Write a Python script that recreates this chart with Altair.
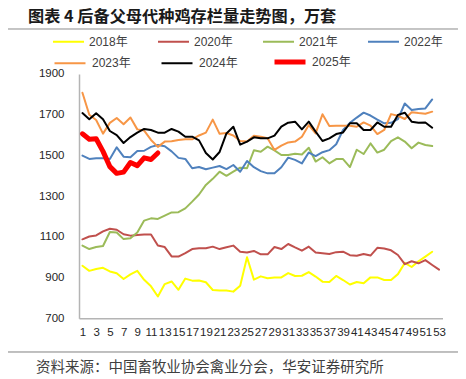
import altair as alt
import pandas as pd

series_names = ["2018年", "2020年", "2021年", "2022年", "2023年", "2024年", "2025年"]
series_colors = ["#FFFF00", "#C0504D", "#9BBB59", "#4F81BD", "#F79646", "#000000", "#FF0000"]
series_widths = [2, 2, 2, 2, 2, 2, 5]

v2018 = [958, 933, 942, 948, 930, 921, 893, 916, 933, 889, 857, 807, 868, 881, 840, 895, 885, 886,
         877, 839, 837, 836, 831, 860, 1000, 890, 906, 897, 900, 901, 922, 908, 909, 927, 905, 880,
         878, 908, 888, 866, 878, 872, 901, 901, 888, 888, 917, 972, 952, 980, 1003, 1027]
v2020 = [1088, 1102, 1107, 1127, 1140, 1135, 1113, 1106, 1109, 1112, 1112, 1058, 1050, 1004, 1003,
         1020, 1040, 1044, 1044, 1052, 1040, 1049, 1057, 1027, 1023, 1031, 1014, 1014, 1050, 1040,
         1065, 1048, 1032, 1052, 1023, 1020, 1016, 1025, 1027, 1010, 1007, 1016, 1008, 1046, 1043,
         1034, 1011, 966, 980, 970, 986, 962, 939]
v2021 = [1057, 1040, 1050, 1055, 1124, 1121, 1089, 1093, 1121, 1180, 1191, 1188, 1204, 1220, 1221,
         1240, 1273, 1308, 1355, 1385, 1420, 1400, 1420, 1440, 1437, 1525, 1518, 1543, 1525, 1502,
         1502, 1508, 1505, 1538, 1470, 1491, 1461, 1482, 1482, 1443, 1528, 1507, 1559, 1514, 1528,
         1570, 1589, 1568, 1535, 1563, 1551, 1546]
v2022 = [1499, 1483, 1486, 1486, 1483, 1540, 1494, 1491, 1522, 1523, 1542, 1551, 1545, 1520, 1488,
         1483, 1437, 1443, 1432, 1440, 1448, 1433, 1453, 1420, 1473, 1442, 1423, 1412, 1412, 1442,
         1489, 1478, 1461, 1514, 1497, 1516, 1526, 1555, 1625, 1660, 1686, 1710, 1696, 1676, 1658,
         1660, 1678, 1755, 1723, 1728, 1731, 1775]
v2023 = [1808, 1700, 1674, 1607, 1660, 1684, 1653, 1686, 1628, 1622, 1576, 1542, 1568, 1570, 1576,
         1579, 1579, 1598, 1612, 1676, 1606, 1610, 1598, 1571, 1568, 1597, 1592, 1584, 1527, 1548,
         1564, 1568, 1592, 1649, 1608, 1702, 1644, 1646, 1646, 1646, 1641, 1662, 1646, 1605, 1625,
         1703, 1695, 1679, 1712, 1708, 1705, 1715]
v2024 = [1708, 1678, 1707, 1678, 1620, 1600, 1561, 1590, 1612, 1630, 1625, 1612, 1612, 1630, 1617,
         1592, 1592, 1574, 1512, 1480, 1517, 1608, 1641, 1553, 1568, 1589, 1584, 1584, 1597, 1641,
         1661, 1666, 1628, 1666, 1617, 1571, 1584, 1605, 1613, 1658, 1658, 1625, 1625, 1662, 1641,
         1641, 1699, 1710, 1666, 1661, 1662, 1636]
v2025 = [1606, 1580, 1582, 1520, 1445, 1412, 1418, 1465, 1450, 1488, 1480, 1512]

x_tick_values = list(range(1, 54, 2))
y_tick_values = list(range(700, 1901, 200))

title_text = "图表 4  后备父母代种鸡存栏量走势图，万套"
source_text = "资料来源：中国畜牧业协会禽业分会，华安证券研究所"

rows = []
for name, vals in zip(series_names, [v2018, v2020, v2021, v2022, v2023, v2024, v2025]):
    for i, v in enumerate(vals):
        rows.append({"week": i + 1, "series": name, "value": v})
df = pd.DataFrame(rows)

names_a, names_b = series_names[:4], series_names[4:]
colors_a, colors_b = series_colors[:4], series_colors[4:]
widths_b = series_widths[4:]
df_a = df[df["series"].isin(names_a)]
df_b = df[df["series"].isin(names_b)]

FONT = "Liberation Sans, Noto Sans CJK SC"
CJK = "Noto Sans CJK SC"

x_enc = alt.X("week:Q",
              scale=alt.Scale(domain=[0.5, 53.5], nice=False, zero=False),
              axis=alt.Axis(values=x_tick_values, title=None, grid=False, ticks=False,
                            labelOverlap=False, labelFlush=False, labelPadding=8, format="d",
                            labelFontSize=11.5, labelFont=FONT, labelColor="#262626",
                            domainColor="#B4B4B4", domainWidth=1.5))
y_enc = alt.Y("value:Q",
              scale=alt.Scale(domain=[700, 1900], nice=False, zero=False),
              axis=alt.Axis(values=y_tick_values, title=None, grid=False, ticks=False,
                            labelPadding=15, labelFontSize=11.5, labelFont=FONT, format="d",
                            labelColor="#262626", domainColor="#B4B4B4", domainWidth=1.5))

legend_a = alt.Legend(
    title=None, orient="none", legendX=-27, legendY=-49, direction="horizontal",
    columns=4, symbolType="stroke", symbolSize=961, symbolStrokeWidth=2, labelOffset=4,
    columnPadding=26, labelFontSize=12, labelFont=FONT, labelColor="#404040",
)
legend_b = alt.Legend(
    title=None, orient="none", legendX=-27, legendY=-30, direction="horizontal",
    columns=3, symbolType="stroke", symbolSize=961, labelOffset=4,
    columnPadding=26, labelFontSize=12, labelFont=FONT, labelColor="#404040",
)

lines_a = alt.Chart(df_a).mark_line(strokeWidth=2, strokeCap="round", strokeJoin="round").encode(
    x=x_enc, y=y_enc,
    color=alt.Color("series:N", scale=alt.Scale(domain=names_a, range=colors_a), legend=legend_a),
)
lines_b = alt.Chart(df_b).mark_line(strokeCap="round", strokeJoin="round").encode(
    x=x_enc, y=y_enc,
    color=alt.Color("series:N", scale=alt.Scale(domain=names_b, range=colors_b), legend=legend_b),
    strokeWidth=alt.StrokeWidth("series:N",
                                scale=alt.Scale(type="ordinal", domain=names_b, range=widths_b),
                                legend=legend_b),
)

title = alt.Chart(pd.DataFrame({"t": [title_text]})).mark_text(
    align="left", baseline="middle", font=CJK, fontSize=16.2, fontWeight="bold", color="#1a1a1a"
).encode(text="t:N", x=alt.value(-51), y=alt.value(-56.5))

src = alt.Chart(pd.DataFrame({"t": [source_text]})).mark_text(
    align="left", baseline="middle", font=CJK, fontSize=14.5, color="#404040"
).encode(text="t:N", x=alt.value(-43), y=alt.value(294))

top_rule = alt.Chart(pd.DataFrame({"a": [0]})).mark_rule(color="#8C8C8C", strokeWidth=1).encode(
    x=alt.value(-71), x2=alt.value(379), y=alt.value(-45))
bottom_rule = alt.Chart(pd.DataFrame({"a": [0]})).mark_rule(color="#7F7F7F", strokeWidth=1).encode(
    x=alt.value(-71), x2=alt.value(379), y=alt.value(278))

chart = alt.layer(top_rule, bottom_rule, title, src, lines_a, lines_b).resolve_scale(
    color="independent", strokeWidth="independent"
).properties(
    width=363.5, height=244.3,
    autosize=alt.AutoSizeParams(type="none"),
    padding={"left": 71, "top": 66, "right": 15, "bottom": 61},
    background="white",
).configure_view(strokeWidth=0)

chart.save("out.html", embed_options={"renderer": "svg", "actions": False})
